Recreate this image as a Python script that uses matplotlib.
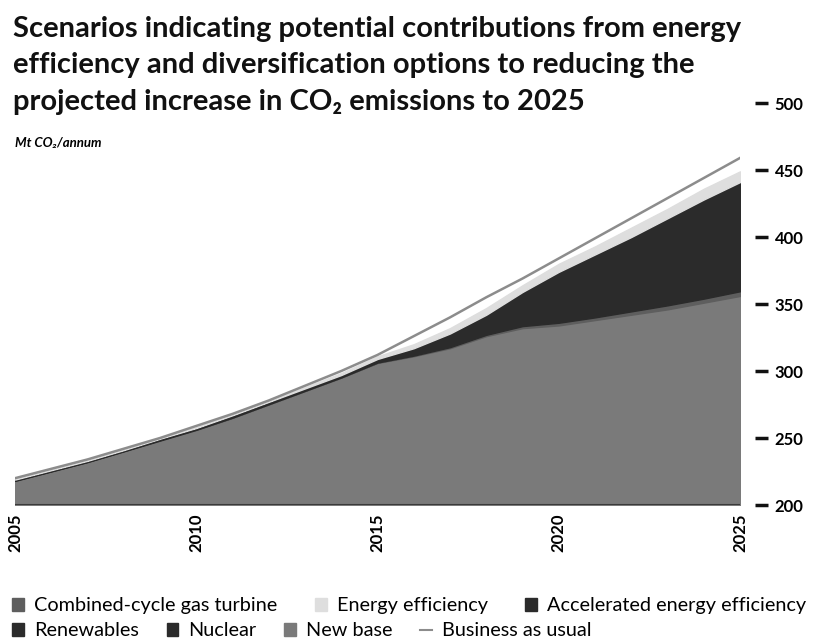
import matplotlib.pyplot as plt
from matplotlib.patches import Patch
from matplotlib.lines import Line2D

# CO2 projections, Mt CO2 per annum
years = list(range(2005, 2026))
new_base = [218, 225, 232, 240, 248, 256, 265, 275, 285, 295, 306,
            311, 317, 326, 332, 334, 338, 342, 346, 351, 356]
ccgt = [0.1, 0.1, 0.1, 0.1, 0.2, 0.2, 0.2, 0.2, 0.2, 0.2, 0.3,
        0.5, 0.8, 1, 1.5, 2, 2, 2.5, 3, 3, 3.5]
nuclear = [0.3, 0.3, 0.3, 0.3, 0.4, 0.4, 0.6, 0.6, 0.6, 0.6, 0.9,
           2, 4, 6, 9, 14, 17, 20, 23, 26, 29]
renewables = [0.3, 0.3, 0.3, 0.3, 0.4, 0.4, 0.6, 0.6, 0.6, 0.6, 0.8,
              1.5, 3, 4, 7.5, 11, 14, 17, 20, 23, 25]
accel_eff = [0.3, 0.3, 0.3, 0.3, 0.5, 0.5, 0.6, 0.6, 0.6, 0.6, 1,
             2, 3.2, 5, 9, 13, 16, 18.5, 22, 25, 27.5]
energy_eff = [0.5, 0.5, 0.5, 0.5, 0.5, 0.5, 0.5, 0.5, 1, 1.5, 2,
              3, 4, 5, 5, 6, 6, 7, 7, 8, 8]
business_as_usual = [220, 227, 234, 242, 250, 259, 268, 278, 289, 300, 312,
                     326, 340, 355, 369, 384, 399, 414, 429, 444, 459]

year_ticks = [2005, 2010, 2015, 2020, 2025]
value_ticks = [200, 250, 300, 350, 400, 450, 500]

FONT = ['Lato', 'DejaVu Sans']
plt.rcParams['font.family'] = FONT

col_base = '#7a7a7a'
col_ccgt = '#5e5e5e'
col_nuc = '#2b2b2b'
col_ren = '#2b2b2b'
col_acc = '#2b2b2b'
col_eff = '#dedede'
col_bau = '#8c8c8c'

fig = plt.figure(figsize=(8.15, 6.44), dpi=100)
ax = fig.add_axes([15 / 815, 1 - 505 / 644, 725 / 815, 402 / 644])

ax.stackplot(years, new_base, ccgt, nuclear, renewables, accel_eff, energy_eff,
             colors=[col_base, col_ccgt, col_nuc, col_ren, col_acc, col_eff],
             edgecolor='face', linewidth=1.0)
ax.plot(years, business_as_usual, color=col_bau, lw=1.8)
ax.axhline(200, color='#3a3a3a', lw=1.5)

ax.set_xlim(2005, 2025)
ax.set_ylim(200, 500)
for s in ax.spines.values():
    s.set_visible(False)

ax.set_xticks(year_ticks)
ax.set_xticklabels([str(y) for y in year_ticks], rotation=90,
                   fontsize=12, fontweight='bold', va='top')
ax.tick_params(axis='x', length=0, pad=6)

ax.yaxis.tick_right()
ax.spines['right'].set_position(('outward', 11))
ax.set_yticks(value_ticks)
ax.set_yticklabels([str(v) for v in value_ticks], fontsize=12, fontweight='bold')
ax.tick_params(axis='y', length=9, width=2.5, color='#111111', pad=5)

fig.text(13 / 815, 1 - 16 / 644,
         'Scenarios indicating potential contributions from energy\n'
         'efficiency and diversification options to reducing the\n'
         'projected increase in CO\u2082 emissions to 2025',
         fontsize=21, fontweight='bold', va='top', ha='left',
         linespacing=1.5, color='#111111')
fig.text(15 / 815, 1 - 143 / 644, 'Mt CO\u2082/annum', fontsize=9.5,
         fontweight='bold', style='italic', va='center', ha='left')

# legend, two rows of unequal length
row1 = [Patch(color=col_ccgt, label='Combined-cycle gas turbine'),
        Patch(color=col_eff, label='Energy efficiency'),
        Patch(color=col_acc, label='Accelerated energy efficiency')]
row2 = [Patch(color=col_ren, label='Renewables'),
        Patch(color=col_nuc, label='Nuclear'),
        Patch(color=col_base, label='New base'),
        Line2D([], [], color=col_bau, lw=1.5, label='Business as usual')]
leg_kw = dict(frameon=False, fontsize=14.3, handlelength=0.6, handleheight=0.6,
              handletextpad=0.5, borderaxespad=0, borderpad=0, loc='center left')
fig.legend(handles=row1, ncol=3, columnspacing=1.9,
           bbox_to_anchor=(12 / 815, 1 - 606 / 644), **leg_kw)
fig.legend(handles=row2, ncol=4, columnspacing=1.4,
           bbox_to_anchor=(12 / 815, 1 - 631 / 644), **leg_kw)

fig.savefig('out.png', dpi=100)
